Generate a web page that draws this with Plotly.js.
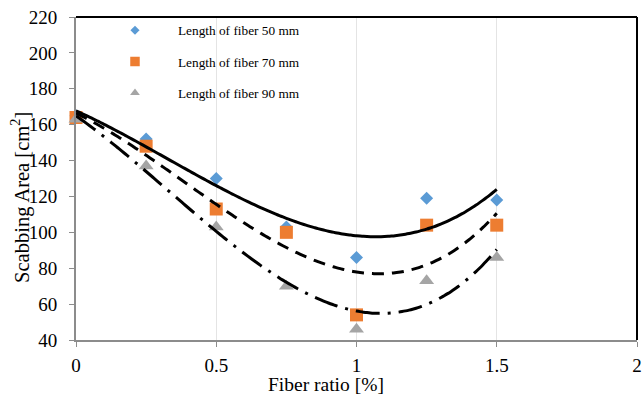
<!DOCTYPE html>
<html>
<head>
<meta charset="utf-8">
<script src="https://cdn.plot.ly/plotly-3.0.1.min.js"></script>
<style>
  html, body { margin: 0; padding: 0; background: #fff; }
  #chart { width: 644px; height: 394px; }
</style>
</head>
<body>
<div id="chart"></div>
<script>
// Fiber ratio (%) tested for each fiber length
const fiberRatio = [0, 0.25, 0.5, 0.75, 1.0, 1.25, 1.5];

// Scabbing area (cm²) for each fiber length
const area50 = [165, 152, 130, 103, 86, 119, 118];
const area70 = [164, 148, 113, 100, 54, 104, 104];
const area90 = [163, 137, 103, 70, 46, 73, 86];

const seriesNames = ['Length of fiber 50 mm', 'Length of fiber 70 mm', 'Length of fiber 90 mm'];
const xTicks = [0, 0.5, 1, 1.5, 2];

// Least-squares polynomial fit (order 3 trendline)
function polyfit(xs, ys, order) {
  const n = order + 1;
  const A = [];
  for (let i = 0; i < n; i++) {
    A.push(new Array(n + 1).fill(0));
  }
  for (let k = 0; k < xs.length; k++) {
    for (let i = 0; i < n; i++) {
      for (let j = 0; j < n; j++) A[i][j] += Math.pow(xs[k], i + j);
      A[i][n] += ys[k] * Math.pow(xs[k], i);
    }
  }
  for (let c = 0; c < n; c++) {
    let p = c;
    for (let r = c + 1; r < n; r++) if (Math.abs(A[r][c]) > Math.abs(A[p][c])) p = r;
    [A[c], A[p]] = [A[p], A[c]];
    for (let r = 0; r < n; r++) {
      if (r === c) continue;
      const f = A[r][c] / A[c][c];
      for (let j = c; j <= n; j++) A[r][j] -= f * A[c][j];
    }
  }
  return A.map((row, i) => row[n] / row[i]);
}

function trend(xs, ys) {
  const coef = polyfit(xs, ys, 3);
  const x0 = Math.min(...xs), x1 = Math.max(...xs);
  const tx = [], ty = [];
  for (let i = 0; i <= 120; i++) {
    const x = x0 + (x1 - x0) * i / 120;
    tx.push(x);
    ty.push(coef.reduce((s, c, k) => s + c * Math.pow(x, k), 0));
  }
  return { tx, ty };
}

const styles = [
  { symbol: 'diamond', color: '#5B9BD5', size: 10, legendSize: 7 },
  { symbol: 'square', color: '#ED7D31', size: 13, legendSize: 9.5 },
  { symbol: 'triangle-up', color: '#A5A5A5', size: 13, legendSize: 8.5 }
];

// Data points (legend entries are drawn by separate empty traces with smaller symbols)
const markerTraces = [area50, area70, area90].map((ys, i) => ({
  type: 'scatter', mode: 'markers', x: fiberRatio, y: ys, name: seriesNames[i],
  marker: { symbol: styles[i].symbol, size: styles[i].size, color: styles[i].color },
  showlegend: false, cliponaxis: false
}));

const legendTraces = seriesNames.map((name, i) => ({
  type: 'scatter', mode: 'markers', x: [null], y: [null], name: name,
  marker: { symbol: styles[i].symbol, size: styles[i].legendSize, color: styles[i].color },
  legendgroup: 'g' + i
}));

// Cubic trendlines: solid, dashed, dash-dot
const dashes = ['solid', '12px,8px', '24px,8px,3px,8px'];
const lineTraces = [area50, area70, area90].map((ys, i) => {
  const t = trend(fiberRatio, ys);
  return {
    type: 'scatter', mode: 'lines', x: t.tx, y: t.ty, showlegend: false,
    line: { color: '#000', width: 3, dash: dashes[i], shape: 'spline' },
    hoverinfo: 'skip'
  };
});

const serif = 'Liberation Serif, Times New Roman, serif';

const layout = {
  width: 644, height: 394,
  margin: { l: 76, r: 7, t: 17, b: 54 },
  paper_bgcolor: '#fff', plot_bgcolor: '#fff',
  font: { family: serif, color: '#000', size: 18 },
  showlegend: true,
  legend: {
    x: 0.0285, y: 1.006, xanchor: 'left', yanchor: 'top',
    font: { family: serif, size: 13.3, color: '#000' },
    bgcolor: 'rgba(0,0,0,0)', borderwidth: 0,
    traceorder: 'grouped', tracegroupgap: 11, itemwidth: 76
  },
  xaxis: {
    range: [0, 2], tickvals: xTicks, ticktext: xTicks.map(String),
    showgrid: true, gridcolor: '#e4e4e4', gridwidth: 1,
    zeroline: false, showline: true, linecolor: '#8c8c8c', linewidth: 2,
    ticks: 'outside', ticklen: 5, tickcolor: '#8c8c8c', tickwidth: 1,
    ticklabelstandoff: 2,
    tickfont: { family: serif, size: 19, color: '#000' }
  },
  yaxis: {
    range: [40, 220], dtick: 20, tick0: 40,
    showgrid: false, zeroline: false, showline: true, linecolor: '#8c8c8c', linewidth: 2,
    ticks: 'outside', ticklen: 5, tickcolor: '#8c8c8c', tickwidth: 1,
    ticklabelstandoff: 8,
    tickfont: { family: serif, size: 19, color: '#000' }
  },
  shapes: [
    { type: 'line', xref: 'paper', yref: 'paper', x0: 0, x1: 1, y0: 1, y1: 1, line: { color: '#000', width: 2 } },
    { type: 'line', xref: 'paper', yref: 'paper', x0: 1, x1: 1, y0: 0, y1: 1, line: { color: '#000', width: 2 } }
  ],
  annotations: [
    { text: 'Scabbing Area [cm<sup>2</sup>]', xref: 'paper', yref: 'paper', x: -0.1, y: 0.4427,
      xanchor: 'center', yanchor: 'middle', textangle: -90, showarrow: false,
      font: { family: serif, size: 20.5, color: '#000' } },
    { text: 'Fiber ratio [%]', xref: 'paper', yref: 'paper', x: 0.4456, y: -0.139,
      xanchor: 'center', yanchor: 'middle', showarrow: false,
      font: { family: serif, size: 19.5, color: '#000' } }
  ]
};

Plotly.newPlot('chart', markerTraces.concat(lineTraces, legendTraces), layout, { displayModeBar: false, staticPlot: true });
</script>
</body>
</html>
